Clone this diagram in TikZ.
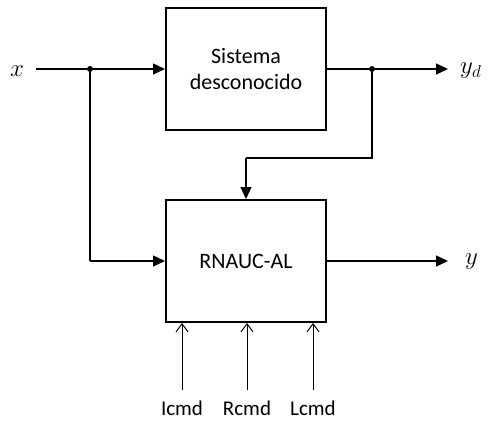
\documentclass[tikz,border=0pt]{standalone}
\usepackage{fontspec}
\setmainfont{Carlito}
\usetikzlibrary{arrows.meta,calc}
\begin{document}
\begin{tikzpicture}[x=1pt,y=-1pt,
  blk/.style={draw,line width=2pt,minimum width=160pt,minimum height=122pt,inner sep=0pt,font=\fontsize{22}{26}\selectfont,align=center},
  sig/.style={line width=1.3pt,-{Triangle[length=12pt,width=11pt]}},
  wire/.style={line width=1.3pt},
  cmdarr/.style={line width=1pt,-{Straight Barb[length=8pt,width=12pt,line width=1pt]}},
  lbl/.style={font=\fontsize{21}{24}\selectfont,inner sep=0pt},
  mlbl/.style={font=\fontsize{27}{30}\selectfont,inner sep=0pt},
  junc/.style={circle,fill,inner sep=0pt,minimum size=6pt}]
\useasboundingbox (0,0) rectangle (492,422);
\node[blk] (sys) at (246,69) {Sistema\\desconocido};
\node[blk] (rn) at (246,261) {RNAUC-AL};
\node[mlbl] (x) at (17,71) {$x$};
\node[mlbl,anchor=west] (yd) at (460,71) {$y_d$};
\node[mlbl,anchor=west] (y) at (465,262) {$y$};
\coordinate (xs) at (36,69);
\node[junc] (j1) at (90,69) {};
\node[junc] (j2) at (372,69) {};
\coordinate (ye) at (448,69);
\coordinate (ye2) at (448,261);
\coordinate (fb1) at (372,158);
\coordinate (fb2) at (246,158);
\coordinate (lb) at (90,261);
\draw[wire] (xs) -- (j1);
\draw[sig] (j1) -- (sys.west);
\draw[wire] (sys.east) -- (j2);
\draw[sig] (j2) -- (ye);
\draw[wire] (j2) -- (fb1) -- (fb2);
\draw[sig] (fb2) -- (rn.north);
\draw[wire] (j1) -- (lb);
\draw[sig] (lb) -- (rn.west);
\draw[sig] (rn.east) -- (ye2);
\node[lbl,anchor=base] (c1) at (182,415) {Icmd};
\node[lbl,anchor=base] (c2) at (247,415) {Rcmd};
\node[lbl,anchor=base] (c3) at (313,415) {Lcmd};
\coordinate (s1) at (182,390);
\coordinate (s2) at (247,390);
\coordinate (s3) at (313,390);
\draw[cmdarr] (s1) -- (s1 |- rn.south);
\draw[cmdarr] (s2) -- (s2 |- rn.south);
\draw[cmdarr] (s3) -- (s3 |- rn.south);
\end{tikzpicture}
\end{document}
